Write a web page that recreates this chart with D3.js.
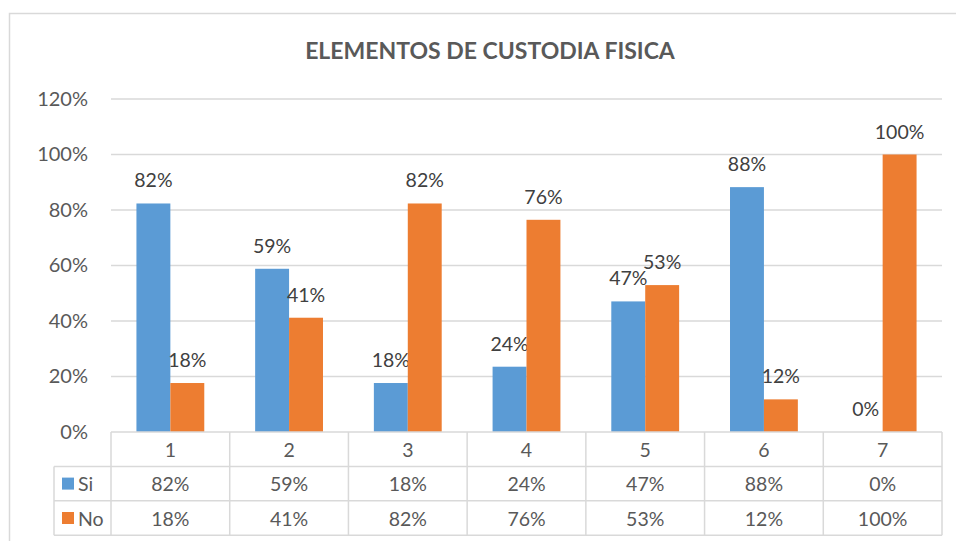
<!DOCTYPE html>
<html><head><meta charset="utf-8">
<script src="https://cdn.jsdelivr.net/npm/d3@7"></script>
<style>body{margin:0;background:#fff}svg{display:block}</style>
</head><body><svg id="c" width="956" height="541"></svg>
<script>
const title = "ELEMENTOS DE CUSTODIA FISICA";
const categories = ["1","2","3","4","5","6","7"];
const seriesNames = ["Si","No"];
const siValues = [0.8235,0.5882,0.1765,0.2353,0.4706,0.8824,0];
const noValues = [0.1765,0.4118,0.8235,0.7647,0.5294,0.1176,1];
const siLabels = ["82%","59%","18%","24%","47%","88%","0%"];
const noLabels = ["18%","41%","82%","76%","53%","12%","100%"];
const yTicks = [0,0.2,0.4,0.6,0.8,1.0,1.2];
const colors = ["#5B9BD5","#ED7D31"];

const svg = d3.select("#c");
const FONT = "Lato, 'Open Sans', sans-serif";
const plot = {left:111, right:942, top:99, bottom:432};
const rowH = 34.4;
const legendLeft = 54;

// outer border
svg.append("path").attr("d","M9.5,541 V13.5 H956").attr("fill","none").attr("stroke","#d9d9d9").attr("stroke-width",1.5);

// title
svg.append("text").attr("x",490).attr("y",59).attr("text-anchor","middle")
  .attr("font-family",FONT).attr("font-weight","bold").attr("font-size",23).attr("fill","#595959").text(title);

const x = d3.scaleBand().domain(categories).range([plot.left,plot.right]).paddingInner(0).paddingOuter(0);
const inner = d3.scaleBand().domain(seriesNames).range([0,x.bandwidth()]).paddingInner(0).paddingOuter(0.75);
const y = d3.scaleLinear().domain([0,1.2]).range([plot.bottom,plot.top]);

// gridlines
svg.append("g").selectAll("line").data(yTicks.slice(1)).join("line")
  .attr("x1",plot.left).attr("x2",plot.right).attr("y1",d=>y(d)).attr("y2",d=>y(d))
  .attr("stroke","#d9d9d9").attr("stroke-width",1.5);

// y axis labels
const yAxis = d3.axisLeft(y).tickValues(yTicks).tickFormat(d3.format(".0%")).tickSize(0).tickPadding(0);
const ga = svg.append("g").attr("transform","translate(88,0)").call(yAxis);
ga.select(".domain").remove();
ga.selectAll("text").attr("font-family",FONT).attr("font-size",20).attr("fill","#595959");

// bars
const series = [siValues, noValues];
const labels = [siLabels, noLabels];
series.forEach((vals,si)=>{
  const g = svg.append("g");
  g.selectAll("rect").data(vals).join("rect")
    .attr("x",(d,i)=>x(categories[i])+inner(seriesNames[si]))
    .attr("width",inner.bandwidth())
    .attr("y",d=>y(d)).attr("height",d=>y(0)-y(d))
    .attr("fill",colors[si]);
  g.selectAll("text").data(vals).join("text")
    .attr("x",(d,i)=>x(categories[i])+inner(seriesNames[si])+inner.bandwidth()/2)
    .attr("y",d=>y(d)-16)
    .attr("text-anchor","middle").attr("font-family",FONT).attr("font-size",19.5).attr("fill","#404040")
    .text((d,i)=>labels[si][i]);
});

// data table
const tg = svg.append("g").attr("stroke","#d9d9d9").attr("stroke-width",1.5);
const r0 = plot.bottom, r1 = r0+rowH, r2 = r1+rowH, r3 = r2+rowH;
tg.append("line").attr("x1",plot.left).attr("x2",plot.right).attr("y1",r0).attr("y2",r0);
[r1,r2,r3].forEach(r=>tg.append("line").attr("x1",legendLeft).attr("x2",plot.right).attr("y1",r).attr("y2",r));
categories.forEach(c=>tg.append("line").attr("x1",x(c)).attr("x2",x(c)).attr("y1",r0).attr("y2",r3));
tg.append("line").attr("x1",plot.right).attr("x2",plot.right).attr("y1",r0).attr("y2",r3);
tg.append("line").attr("x1",legendLeft).attr("x2",legendLeft).attr("y1",r1).attr("y2",r3);

const txt = (sel)=>sel.attr("text-anchor","middle").attr("font-family",FONT).attr("font-size",19.5).attr("fill","#595959").attr("dominant-baseline","central");
svg.append("g").selectAll("text").data(categories).join("text")
  .attr("x",d=>x(d)+x.bandwidth()/2).attr("y",(r0+r1)/2).call(txt).text(d=>d);
[siLabels,noLabels].forEach((arr,si)=>{
  const ry = (si===0?(r1+r2)/2:(r2+r3)/2);
  svg.append("g").selectAll("text").data(arr).join("text")
    .attr("x",(d,i)=>x(categories[i])+x.bandwidth()/2).attr("y",ry).call(txt).text(d=>d);
  svg.append("rect").attr("x",62).attr("y",ry-6).attr("width",12).attr("height",12).attr("fill",colors[si]);
  svg.append("text").attr("x",78).attr("y",ry).call(txt).attr("text-anchor","start").text(seriesNames[si]);
});
</script></body></html>
